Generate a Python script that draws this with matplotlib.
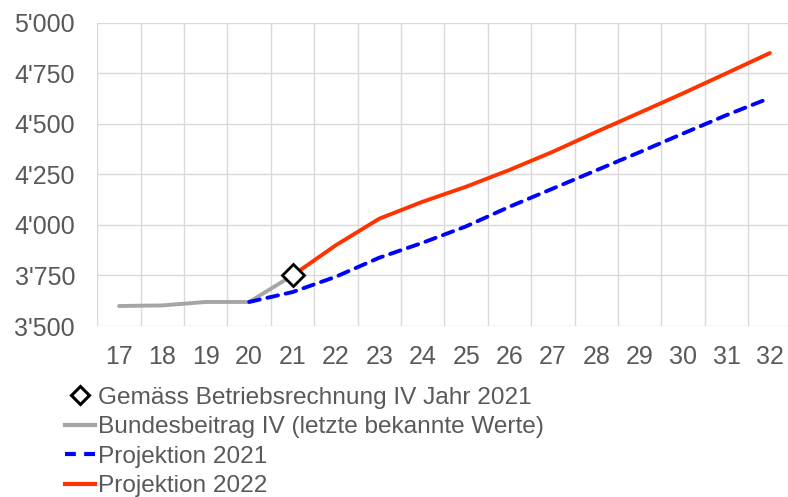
import matplotlib.pyplot as plt
from matplotlib.ticker import FuncFormatter, MultipleLocator
from matplotlib.lines import Line2D

plt.rcParams['font.family'] = ['Liberation Sans', 'DejaVu Sans']

years = ['17', '18', '19', '20', '21', '22', '23', '24', '25', '26', '27', '28', '29', '30', '31', '32']

# Bundesbeitrag IV (letzte bekannte Werte), 17..21
bund = [3599, 3602, 3619, 3619, 3750]
# Projektion 2021, 20..32
proj21 = [3619, 3668, 3744, 3838, 3912, 3993, 4090, 4180, 4270, 4360, 4452, 4543, 4628]
# Projektion 2022, 21..32
proj22 = [3750, 3900, 4031, 4115, 4189, 4272, 4362, 4460, 4555, 4651, 4750, 4850]
# Gemäss Betriebsrechnung IV Jahr 2021
br_year = 4
br_val = 3750

x = list(range(len(years)))

fig = plt.figure(figsize=(7.88, 4.97), dpi=100)
ax = fig.add_axes([0.1235, 0.344, 0.881, 0.6103])

ax.plot(x[:5], bund, color='#A5A5A5', lw=2.8, solid_capstyle='round', zorder=3)
ax.plot(x[3:], proj21, color='#0000FF', lw=2.8, ls=(0, (2.8, 2)), dash_capstyle='round', zorder=4)
ax.plot(x[4:], proj22, color='#FF3300', lw=2.8, solid_capstyle='round', zorder=3)
ax.plot([br_year], [br_val], marker='D', ms=11, mfc='white', mec='black', mew=2, ls='none', zorder=5)

ax.set_xlim(-0.5, 15.5)
ax.set_ylim(3500, 5000)
ax.set_xticks(x)
ax.set_xticklabels(years)
ax.set_xticks([i + 0.5 for i in range(-1, 16)], minor=True)
ax.yaxis.set_major_locator(MultipleLocator(250))
ax.yaxis.set_major_formatter(FuncFormatter(lambda v, p: "{:,.0f}".format(v).replace(',', "'")))

ax.grid(True, axis='y', which='major', color='#D9D9D9', lw=1)
ax.grid(True, axis='x', which='minor', color='#D9D9D9', lw=1)
ax.set_axisbelow(True)
for s in ax.spines.values():
    s.set_visible(False)
ax.tick_params(axis='both', which='both', length=0, labelsize=18, labelcolor='#595959')
ax.tick_params(axis='x', pad=14)
ax.tick_params(axis='y', pad=16)

handles = [
    Line2D([], [], marker='D', ms=9, mfc='white', mec='black', mew=2.2, ls='none'),
    Line2D([], [], color='#A5A5A5', lw=3),
    Line2D([], [], color='#0000FF', lw=3, ls=(0, (2.6, 2))),
    Line2D([], [], color='#FF3300', lw=3),
]
labels = ['Gemäss Betriebsrechnung IV Jahr 2021',
          'Bundesbeitrag IV (letzte bekannte Werte)',
          'Projektion 2021',
          'Projektion 2022']
leg = fig.legend(handles, labels, loc='upper left', bbox_to_anchor=(0.083, 0.222),
                 frameon=False, fontsize=17.6, handlelength=1.22, handletextpad=0.1,
                 labelspacing=0.3, borderpad=0, borderaxespad=0)
for t in leg.get_texts():
    t.set_color('#595959')

fig.savefig('out.png', dpi=100)
